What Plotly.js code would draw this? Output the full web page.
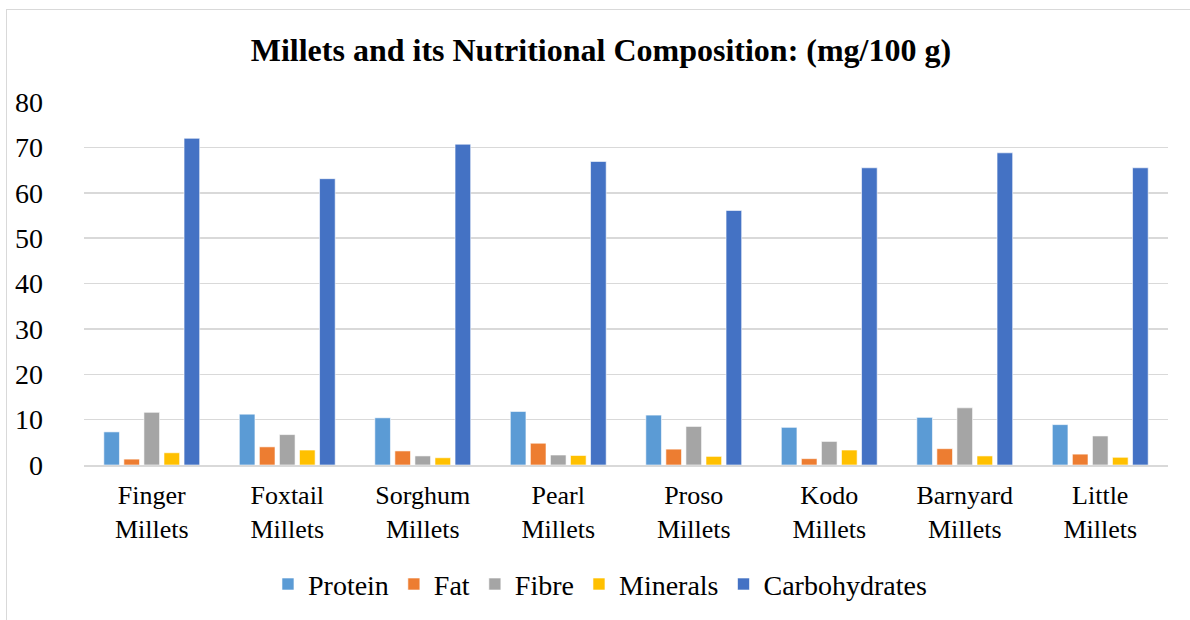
<!DOCTYPE html>
<html>
<head>
<meta charset="utf-8">
<script src="https://cdn.plot.ly/plotly-3.0.1.min.js"></script>
<style>
html,body{margin:0;padding:0;background:#fff;}
#wrap{position:relative;width:1190px;height:620px;overflow:hidden;}
#chart{position:absolute;left:0;top:0;width:1190px;height:620px;}
#frame{position:absolute;left:6px;top:9px;width:1200px;height:640px;border:1.5px solid #d9d9d9;pointer-events:none;}
#chart svg text{font-family:'Liberation Serif','Times New Roman',serif !important;}
</style>
</head>
<body>
<div id="wrap"><div id="chart"></div><div id="frame"></div></div>
<script>
const categories = ["Finger<br>Millets","Foxtail<br>Millets","Sorghum<br>Millets","Pearl<br>Millets","Proso<br>Millets","Kodo<br>Millets","Barnyard<br>Millets","Little<br>Millets"];
const protein = [7.3, 11.2, 10.4, 11.8, 11.0, 8.3, 10.5, 8.9];
const fat = [1.3, 4.0, 3.1, 4.8, 3.5, 1.4, 3.6, 2.4];
const fibre = [11.6, 6.7, 2.0, 2.2, 8.5, 5.2, 12.6, 6.4];
const minerals = [2.7, 3.3, 1.6, 2.1, 1.9, 3.3, 2.0, 1.7];
const carbohydrates = [72.0, 63.1, 70.7, 66.9, 56.1, 65.5, 68.8, 65.5];
const seriesNames = ["Protein","Fat","Fibre","Minerals","Carbohydrates"];
const seriesColors = ["#5b9bd5","#ed7d31","#a5a5a5","#ffc000","#4472c4"];
const seriesData = [protein, fat, fibre, minerals, carbohydrates];

const traces = seriesData.map((vals, i) => ({
  type: "bar",
  name: seriesNames[i],
  x: categories,
  y: vals,
  marker: {color: seriesColors[i], line: {color: "#ffffff", width: 0.6}},
  hoverinfo: "x+y+name"
}));

const serif = "Liberation Serif, Times New Roman, serif";
const layout = {
  width: 1190, height: 620,
  margin: {l: 84, r: 22, t: 102, b: 154},
  paper_bgcolor: "#ffffff", plot_bgcolor: "#ffffff",
  font: {family: serif, color: "#000000", size: 26},
  title: {text: "<b>Millets and its Nutritional Composition: (mg/100 g)</b>",
          font: {family: serif, size: 32, color: "#000000"},
          x: 0.505, xanchor: "center", y: 0.92, yanchor: "middle"},
  barmode: "group",
  bargap: 0.26,
  bargroupgap: 0.22,
  xaxis: {
    tickfont: {family: serif, size: 26, color: "#000000"},
    showline: true, linecolor: "#d9d9d9", linewidth: 1.5,
    ticks: "", showgrid: false, fixedrange: true, ticklabelstandoff: 6
  },
  yaxis: {
    range: [0, 80], dtick: 10, tick0: 0,
    tickfont: {family: serif, size: 28, color: "#000000"},
    showgrid: true, gridcolor: "#d9d9d9", gridwidth: 1.5,
    zeroline: false, showline: false, ticks: "", ticklabelstandoff: 40,
    fixedrange: true
  },
  legend: {
    orientation: "h", x: 0.476, xanchor: "center", y: -0.325, yanchor: "middle",
    font: {family: serif, size: 28, color: "#000000"},
    itemwidth: 30, tracegroupgap: 0
  },
  showlegend: true
};

Plotly.newPlot("chart", traces, layout, {displayModeBar: false, staticPlot: true});
</script>
</body>
</html>
